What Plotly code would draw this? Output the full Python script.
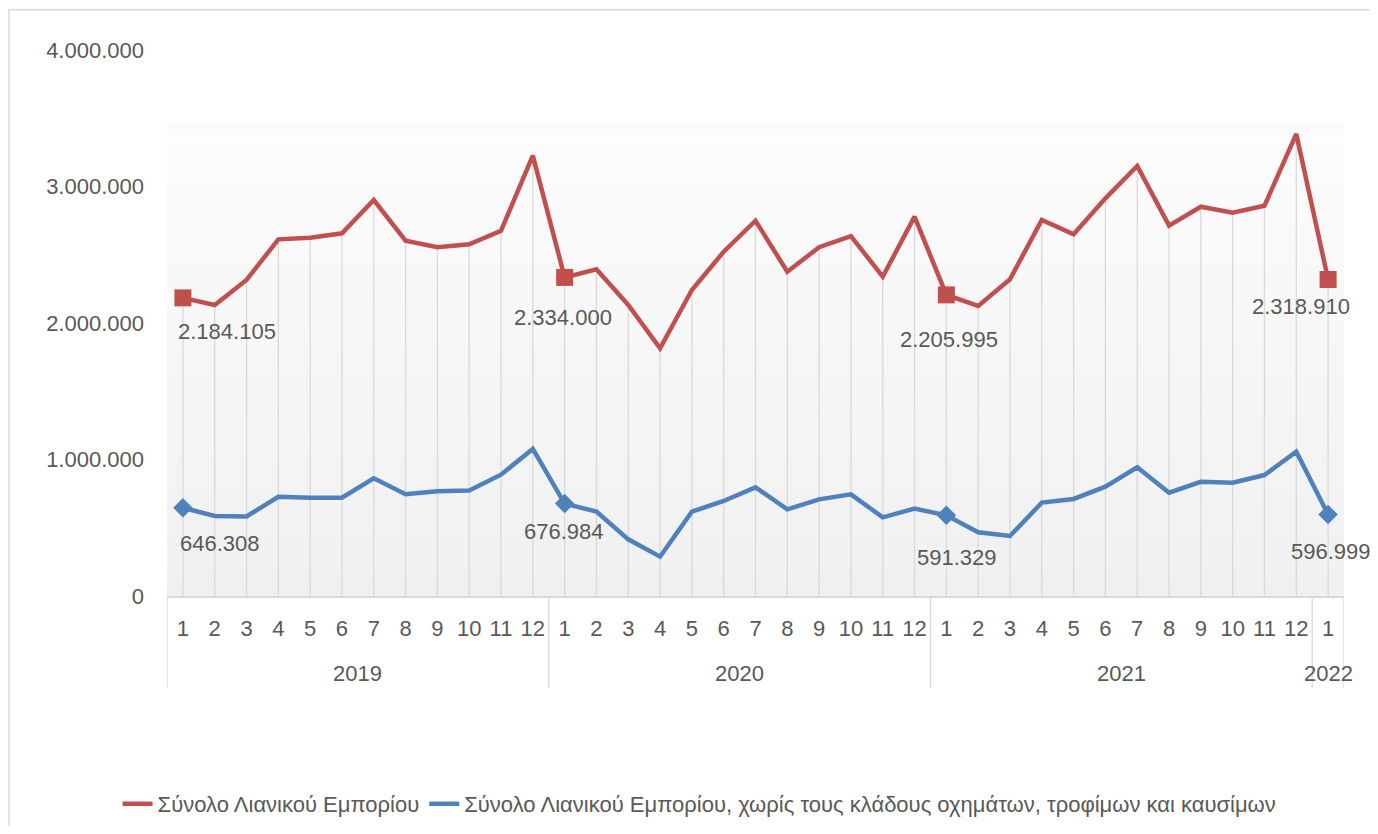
import plotly.graph_objects as go

# ---------------- data ----------------
years = [2019] * 12 + [2020] * 12 + [2021] * 12 + [2022]
months = list(range(1, 13)) * 3 + [1]

retail_total = [
    2184105, 2132000, 2315000, 2613000, 2625000, 2657000, 2901000, 2603000, 2555000, 2577000, 2676000, 3226000,
    2334000, 2393000, 2132000, 1815000, 2242000, 2522000, 2749000, 2376000, 2555000, 2637000, 2339000, 2779000,
    2205995, 2125000, 2320000, 2755000, 2650000, 2913000, 3150000, 2713000, 2852000, 2808000, 2859000, 3385000,
    2318910,
]
retail_core = [
    646308, 586000, 583000, 727000, 720000, 720000, 862000, 745000, 767000, 772000, 889000, 1077000,
    676984, 618000, 415000, 288000, 618000, 696000, 796000, 635000, 708000, 745000, 576000, 640000,
    591329, 467000, 440000, 684000, 711000, 801000, 943000, 757000, 837000, 830000, 886000, 1057000,
    596999,
]
series_names = [
    "Σύνολο Λιανικού Εμπορίου",
    "Σύνολο Λιανικού Εμπορίου, χωρίς τους κλάδους οχημάτων, τροφίμων και καυσίμων",
]
y_ticks = [0, 1000000, 2000000, 3000000, 4000000]

# ---------------- helpers ----------------
def fmt(v):
    return f"{v:,}".replace(",", ".")

x = list(range(len(months)))
first_idx = [i for i, m in enumerate(months) if m == 1]

RED = "#C0504D"
BLUE = "#4F81BD"
GRID = "#d9d9d9"
TXT = "#595959"
FONT = "Liberation Sans"

fig = go.Figure()

# drop lines (from the upper series down to the axis)
fig.add_trace(go.Scatter(
    x=x, y=retail_total, mode="markers",
    marker=dict(size=1, opacity=0),
    error_y=dict(type="data", symmetric=False, array=[0] * len(x),
                 arrayminus=retail_total, color=GRID, thickness=1.3, width=0),
    showlegend=False, hoverinfo="skip",
))

fig.add_trace(go.Scatter(
    x=x, y=retail_total, mode="lines", name=series_names[0],
    line=dict(color=RED, width=4.5),
))
fig.add_trace(go.Scatter(
    x=x, y=retail_core, mode="lines", name=series_names[1],
    line=dict(color=BLUE, width=4.5),
))
fig.add_trace(go.Scatter(
    x=[x[i] for i in first_idx], y=[retail_total[i] for i in first_idx],
    mode="markers", marker=dict(symbol="square", size=17, color=RED),
    showlegend=False, hoverinfo="skip",
))
fig.add_trace(go.Scatter(
    x=[x[i] for i in first_idx], y=[retail_core[i] for i in first_idx],
    mode="markers", marker=dict(symbol="diamond", size=15, color=BLUE),
    showlegend=False, hoverinfo="skip",
))

# data labels (pixel offsets of each label from its point)
red_off = [(44, -34), (-2, -40), (3, -45), (-27, -27)]
blue_off = [(37, -36), (-1, -28), (11, -42), (3, -37)]
annotations = []
for k, i in enumerate(first_idx):
    for vals, off in ((retail_total, red_off), (retail_core, blue_off)):
        annotations.append(dict(
            x=x[i], y=vals[i], xref="x", yref="y", text=fmt(vals[i]),
            showarrow=False, xshift=off[k][0], yshift=off[k][1],
            font=dict(family=FONT, size=22, color=TXT),
        ))

# year labels + dividers
year_list = []
for yv in years:
    if yv not in year_list:
        year_list.append(yv)
shapes = []
bounds = [-0.5]
for yv in year_list:
    idx = [i for i, v in enumerate(years) if v == yv]
    bounds.append(idx[-1] + 0.5)
    annotations.append(dict(
        x=(idx[0] + idx[-1]) / 2, y=0, xref="x", yref="paper", yshift=-77,
        text=str(yv), showarrow=False, yanchor="middle",
        font=dict(family=FONT, size=22, color=TXT),
    ))
for b in bounds:
    shapes.append(dict(type="line", xref="x", yref="paper", x0=b, x1=b,
                       y0=0, y1=-0.1685, line=dict(color=GRID, width=1.3)))

# background gradient (near-white at top to light grey at bottom)
n_bands = 60
top = 0.868
c_top, c_bot = 252, 240
for j in range(n_bands):
    t = j / (n_bands - 1)
    c = int(round(c_bot + (c_top - c_bot) * t))
    shapes.append(dict(type="rect", xref="paper", yref="paper", layer="below",
                       x0=0, x1=1, y0=top * j / n_bands, y1=top * (j + 1) / n_bands,
                       fillcolor=f"rgb({c},{c},{c})", line=dict(width=0)))

# chart border
shapes.append(dict(type="rect", xref="paper", yref="paper", x0=-0.1342, x1=1.2,
                   y0=-0.7, y1=1.0735, line=dict(color=GRID, width=1.5),
                   fillcolor="rgba(0,0,0,0)", layer="below"))

fig.update_layout(
    width=1362, height=818, autosize=False,
    margin=dict(l=159, r=26, t=42, b=230, autoexpand=False),
    paper_bgcolor="white", plot_bgcolor="rgba(0,0,0,0)",
    font=dict(family=FONT, size=22, color=TXT),
    showlegend=True,
    legend=dict(orientation="h", x=-0.042, xanchor="left", y=-0.381, yanchor="middle",
                font=dict(family=FONT, size=22, color=TXT), itemwidth=30,
                bgcolor="rgba(0,0,0,0)"),
    annotations=annotations,
    shapes=shapes,
    xaxis=dict(
        range=[-0.5, len(x) - 0.5], tickmode="array", tickvals=x,
        ticktext=[str(m) for m in months], showgrid=False, zeroline=False,
        showline=True, linecolor=GRID, linewidth=1.5, ticks="",
        ticklabelstandoff=12, tickfont=dict(family=FONT, size=22, color=TXT),
    ),
    yaxis=dict(
        range=[0, 4000000], tickmode="array", tickvals=y_ticks,
        ticktext=[fmt(v) for v in y_ticks], showgrid=False, zeroline=False,
        showline=False, ticks="", ticklabelstandoff=22,
        tickfont=dict(family=FONT, size=22, color=TXT),
    ),
)

fig.write_html("out.html")
